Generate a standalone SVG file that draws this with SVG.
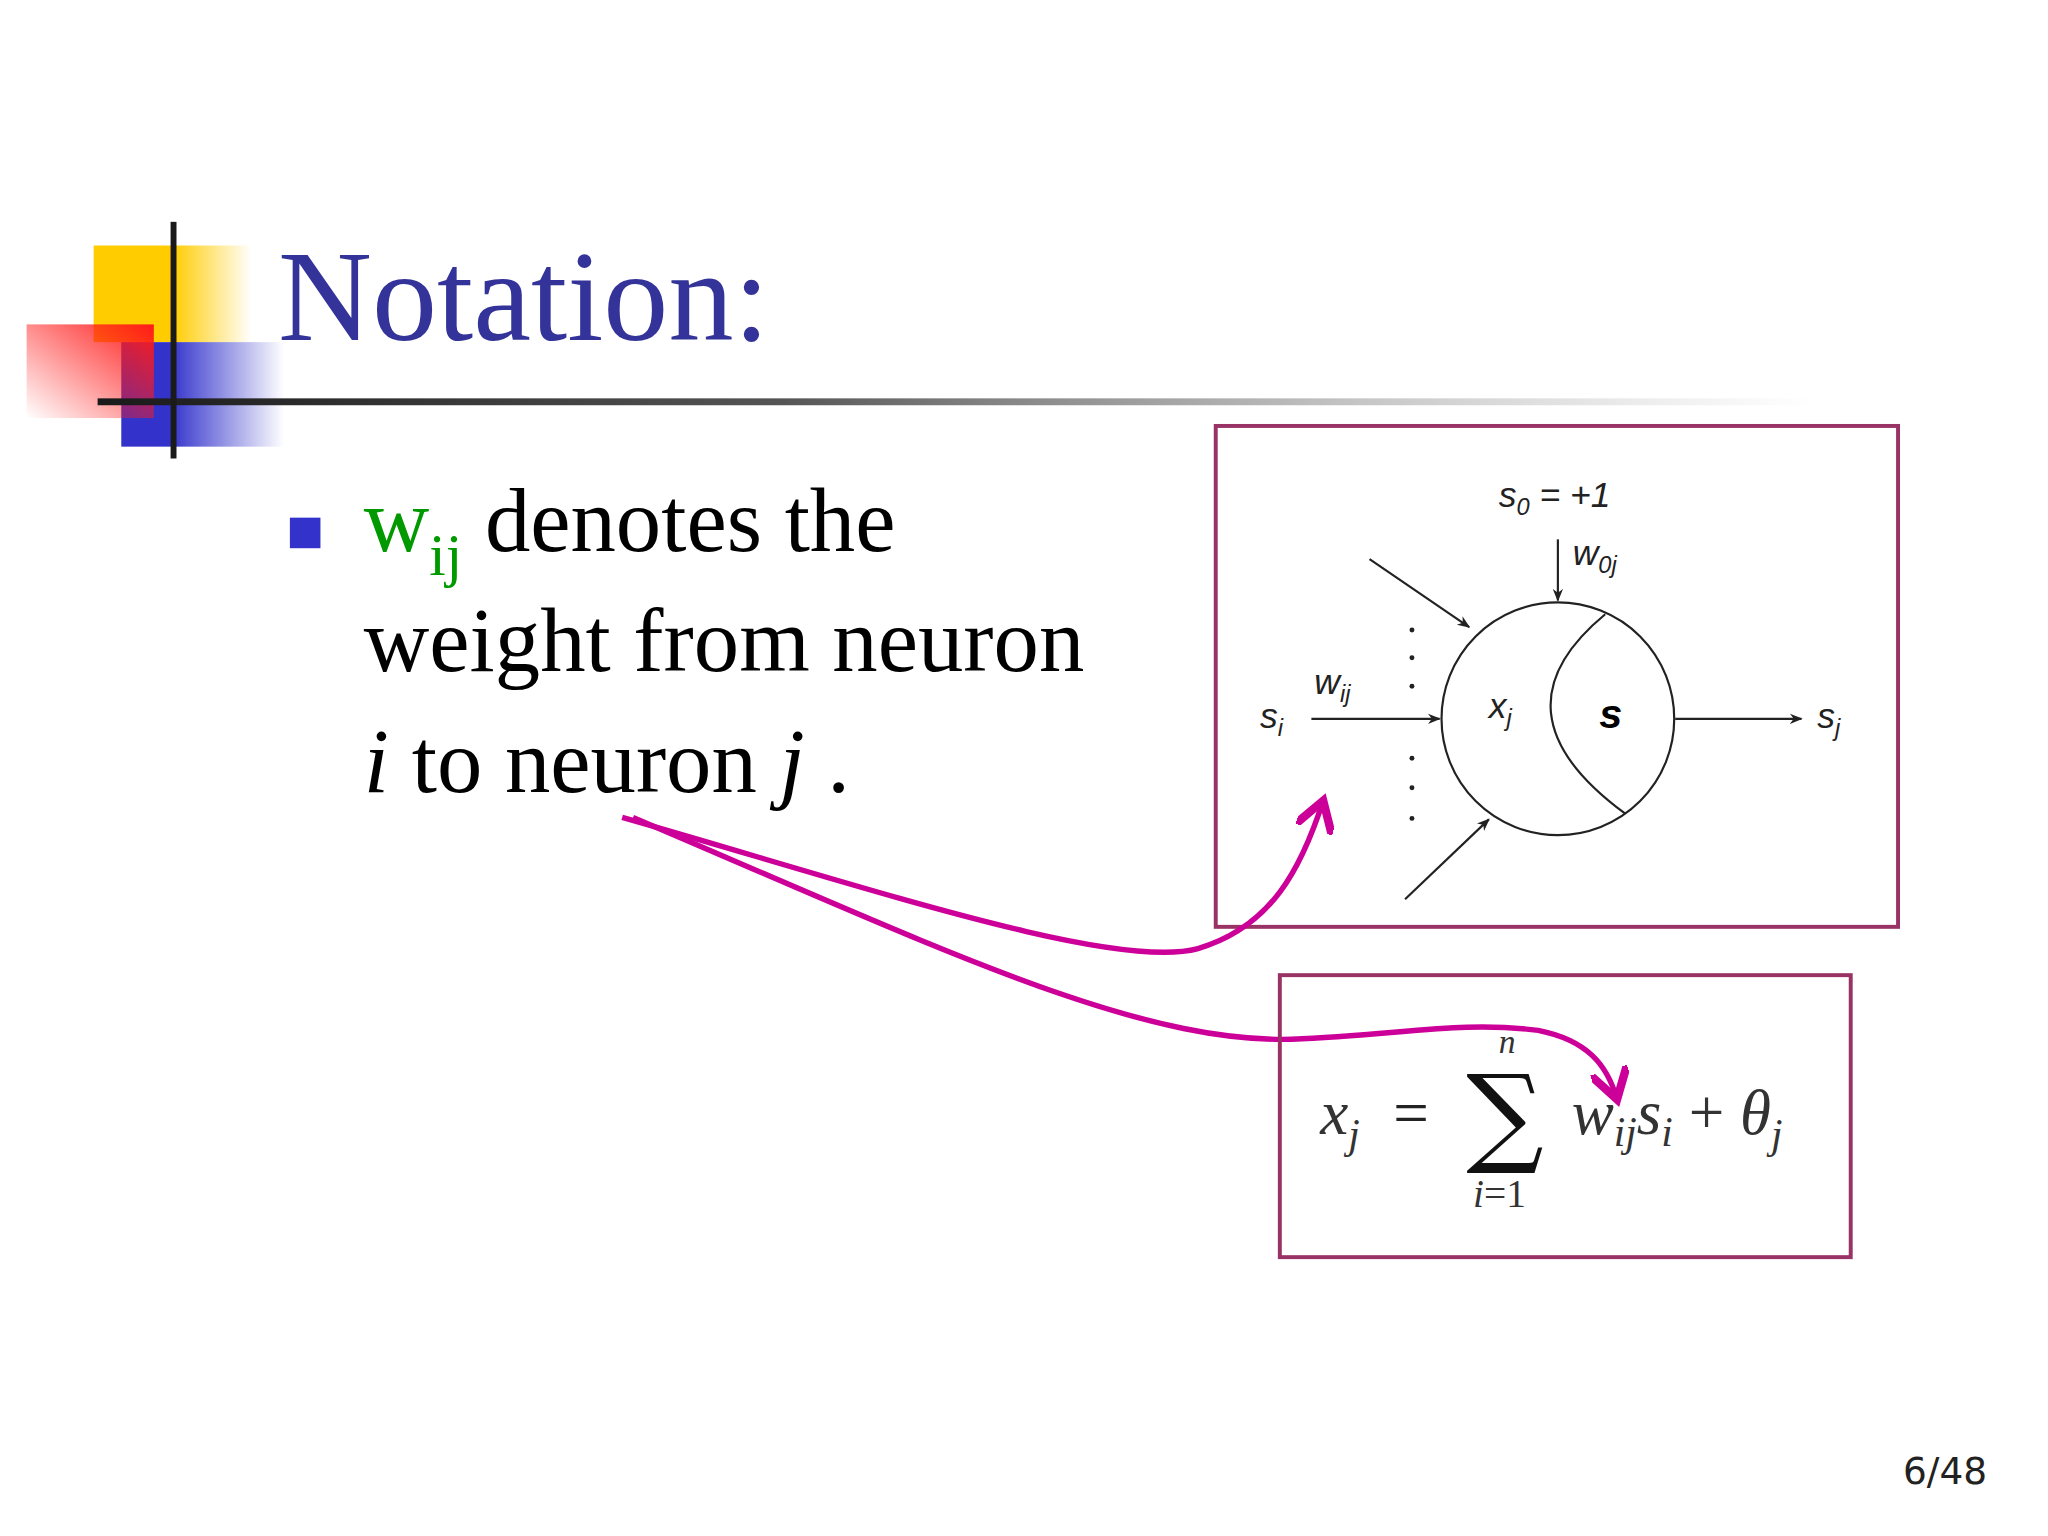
<svg xmlns="http://www.w3.org/2000/svg" width="2048" height="1536" viewBox="0 0 2048 1536">
<defs>
<linearGradient id="gy" x1="0" x2="1" y1="0" y2="0"><stop offset="0.5" stop-color="#ffcc00"/><stop offset="1" stop-color="#ffcc00" stop-opacity="0"/></linearGradient>
<linearGradient id="gb" x1="0" x2="1" y1="0" y2="0"><stop offset="0.3" stop-color="#3333cc"/><stop offset="1" stop-color="#3333cc" stop-opacity="0"/></linearGradient>
<linearGradient id="gr" x1="1" y1="0" x2="0" y2="1"><stop offset="0" stop-color="#ff1a1a"/><stop offset="1" stop-color="#ff1a1a" stop-opacity="0"/></linearGradient>
<linearGradient id="gl" x1="0" x2="1" y1="0" y2="0"><stop offset="0" stop-color="#1a1a1a"/><stop offset="0.4" stop-color="#555"/><stop offset="1" stop-color="#999" stop-opacity="0"/></linearGradient>
<marker id="ah" viewBox="0 0 10 10" refX="9" refY="5" markerWidth="13" markerHeight="13" markerUnits="userSpaceOnUse" orient="auto"><path d="M0,1 L10,5 L0,9 L3,5 Z" fill="#222"/></marker>
<marker id="mh" viewBox="0 0 10 10" refX="8" refY="5" markerWidth="7" markerHeight="7" orient="auto"><path d="M0,0 L8,5 L0,10" fill="none" stroke="#cc0099" stroke-width="2.2"/></marker>
</defs>
<style>
.lbl{font-family:"Liberation Sans",Arial,sans-serif;font-size:36px;font-style:italic;fill:#222}
.sub{font-size:24px}
.body{font-family:"Liberation Serif","Times New Roman",serif;font-size:92px;fill:#000}
.math{font-family:"Liberation Serif","Times New Roman",serif;font-size:64px;font-style:italic;fill:#333}
.ln{stroke:#222;stroke-width:2.2;fill:none}
.box{fill:none;stroke:#993366;stroke-width:4}
.mg{fill:none;stroke:#cc0099;stroke-width:5.5}
</style>
<rect width="2048" height="1536" fill="#fff"/>
<g transform="scale(0.986)">
<g id="logo">
<rect x="95" y="249" width="160" height="98" fill="url(#gy)"/>
<rect x="123" y="347" width="165" height="106" fill="url(#gb)"/>
<rect x="27" y="329" width="129" height="95" fill="url(#gr)"/>
<rect x="99" y="404" width="1740" height="7" fill="url(#gl)"/>
<rect x="173" y="225" width="6" height="240" fill="#1a1a1a"/>
</g>
<text id="title" x="282" y="345" font-family="Liberation Serif,serif" font-size="132" fill="#333399">Notation:</text>
<g id="bullet">
<rect x="294" y="525" width="31" height="31" fill="#3333cc"/>
<text class="body" x="369" y="559"><tspan fill="#009900">w</tspan><tspan fill="#009900" font-size="60" dy="24">ij</tspan><tspan dy="-24"> denotes the</tspan></text>
<text class="body" x="369" y="681">weight from neuron</text>
<text class="body" x="369" y="803"><tspan font-style="italic">i</tspan> to neuron <tspan font-style="italic">j</tspan> .</text>
</g>
<g id="neuron-box">
<rect class="box" x="1233" y="432" width="692" height="508"/>
<circle cx="1580" cy="729" r="118" class="ln"/>
<path d="M1628 623 Q1508 722 1648 825" class="ln"/>
<text class="lbl" x="1520" y="514">s<tspan class="sub" dy="8">0</tspan><tspan dy="-8"> = +1</tspan></text>
<text class="lbl" x="1595" y="573">w<tspan class="sub" dy="8">0j</tspan></text>
<text class="lbl" x="1278" y="738">s<tspan class="sub" dy="8">i</tspan></text>
<text class="lbl" x="1333" y="704">w<tspan class="sub" dy="8">ij</tspan></text>
<text class="lbl" x="1510" y="728">x<tspan class="sub" dy="8">j</tspan></text>
<text class="lbl" x="1622" y="738" style="font-weight:bold;font-size:42px;fill:#000">s</text>
<text class="lbl" x="1843" y="738">s<tspan class="sub" dy="8">j</tspan></text>
<g fill="#222"><circle cx="1432" cy="639" r="2.5"/><circle cx="1432" cy="667" r="2.5"/><circle cx="1432" cy="696" r="2.5"/><circle cx="1432" cy="769" r="2.5"/><circle cx="1432" cy="799" r="2.5"/><circle cx="1432" cy="830" r="2.5"/></g>
</g>
<g id="connectors">
<line class="ln" x1="1330" y1="729" x2="1460" y2="729" marker-end="url(#ah)"/>
<line class="ln" x1="1389" y1="567" x2="1490" y2="636" marker-end="url(#ah)"/>
<line class="ln" x1="1425" y1="912" x2="1510" y2="831" marker-end="url(#ah)"/>
<line class="ln" x1="1580" y1="547" x2="1580" y2="609" marker-end="url(#ah)"/>
<line class="ln" x1="1699" y1="729" x2="1827" y2="729" marker-end="url(#ah)"/>
<path class="mg" d="M631 829 C 880 900, 1130 985, 1215 962 C 1290 940, 1320 880, 1342 812" marker-end="url(#mh)"/>
<path class="mg" d="M642 829 C 950 960, 1150 1058, 1310 1054 C 1420 1050, 1480 1035, 1560 1045 C 1610 1055, 1630 1080, 1640 1115" marker-end="url(#mh)"/>
</g>
<g id="formula-box">
<rect class="box" x="1298" y="989" width="579" height="286"/>
<text class="math" x="1339" y="1150">x<tspan font-size="42" dy="14">j</tspan></text>
<text x="1413" y="1150" font-family="Liberation Serif,serif" font-size="64" fill="#222">=</text>
<text x="1487" y="1168" font-family="DejaVu Serif,serif" font-size="110" fill="#111">∑</text>
<text class="math" x="1520" y="1068" style="font-size:34px">n</text>
<text class="math" x="1494" y="1224" style="font-size:40px">i<tspan font-style="normal">=1</tspan></text>
<text class="math" x="1594" y="1150">w<tspan font-size="42" dy="12">ij</tspan><tspan dy="-12">s</tspan><tspan font-size="42" dy="12">i</tspan><tspan dy="-12" font-style="normal"> + </tspan>θ<tspan font-size="42" dy="14">j</tspan></text>
</g>
<text id="page" x="1930" y="1505" font-family="DejaVu Sans,sans-serif" font-size="38" fill="#222">6/48</text>
</g>
</svg>
